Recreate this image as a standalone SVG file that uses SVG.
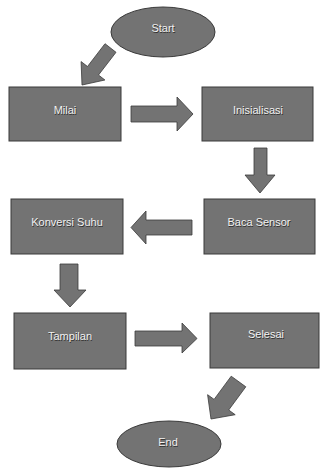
<svg xmlns="http://www.w3.org/2000/svg" width="320" height="468" viewBox="0 0 320 468">
<style>
.box{fill:#737373;stroke:#3a3a3a;stroke-width:1}
.arr{fill:#737373;stroke:#3a3a3a;stroke-width:0.8}
.t{font-family:"Liberation Sans",Arial,sans-serif;font-size:11px;fill:#f2f2f2;text-anchor:middle;dominant-baseline:central}
.sh{fill:#303030}
</style>
<rect width="320" height="468" fill="#ffffff"/>
<g id="connectors">
<polygon class="arr" points="105,43.7 116,52.3 98.5,75 104.9,80 82,85 81.1,61.6 87.5,66.5"/>
<polygon class="arr" points="131,106 177,106 177,97 193,114 177,131 177,122 131,122"/>
<polygon class="arr" points="254,148 267,148 267,175 275,175 260,193 245,175 254,175"/>
<polygon class="arr" points="192,220 146,220 146,211 131,227.5 146,244 146,235 192,235"/>
<polygon class="arr" points="60,264 78,264 78,290 86,290 70,307 54,290 60,290"/>
<polygon class="arr" points="135,331 182,331 182,323 197,338.5 182,353 182,346 135,346"/>
<polygon class="arr" points="231.2,376.2 245.8,386.8 228.7,410 235.2,414.7 211,419 207.6,394.7 214.1,399.4"/>
</g>
<g id="start">
<ellipse class="box" cx="163" cy="32" rx="52" ry="25"/>
<text class="t sh" x="163.6" y="28.6">Start</text>
<text class="t" x="163" y="28">Start</text>
</g>
<g id="milai">
<rect class="box" x="9" y="87" width="112" height="54"/>
<text class="t sh" x="65.6" y="110.6">Milai</text>
<text class="t" x="65" y="110">Milai</text>
</g>
<g id="inisialisasi">
<rect class="box" x="202" y="87" width="111" height="54"/>
<text class="t sh" x="258.6" y="110.6">Inisialisasi</text>
<text class="t" x="258" y="110">Inisialisasi</text>
</g>
<g id="baca-sensor">
<rect class="box" x="204" y="199" width="111" height="55"/>
<text class="t sh" x="259.6" y="222.6">Baca Sensor</text>
<text class="t" x="259" y="222">Baca Sensor</text>
</g>
<g id="konversi-suhu">
<rect class="box" x="11" y="199" width="112" height="55"/>
<text class="t sh" x="67.6" y="222.6">Konversi Suhu</text>
<text class="t" x="67" y="222">Konversi Suhu</text>
</g>
<g id="tampilan">
<rect class="box" x="14" y="313" width="112" height="56"/>
<text class="t sh" x="70.6" y="336.6">Tampilan</text>
<text class="t" x="70" y="336">Tampilan</text>
</g>
<g id="selesai">
<rect class="box" x="210" y="313" width="109" height="55"/>
<text class="t sh" x="266.6" y="334.6">Selesai</text>
<text class="t" x="266" y="334">Selesai</text>
</g>
<g id="end">
<ellipse class="box" cx="169" cy="444" rx="52" ry="23"/>
<text class="t sh" x="168.6" y="442.6">End</text>
<text class="t" x="168" y="442">End</text>
</g>
</svg>
